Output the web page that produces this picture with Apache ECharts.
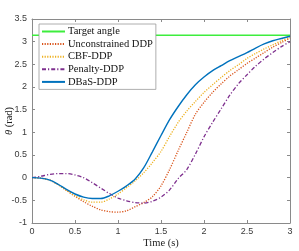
<!DOCTYPE html>
<html><head><meta charset="utf-8">
<script src="https://cdn.jsdelivr.net/npm/echarts@6/dist/echarts.min.js"></script>
<style>html,body{margin:0;padding:0;background:#fff}#c{width:299px;height:251px}</style>
</head><body><div id="c"></div>
<script>
const time = [0,0.1,0.2,0.3,0.4,0.5,0.6,0.7,0.8,0.9,1.0,1.1,1.2,1.3,1.4,1.5,1.6,1.7,1.8,1.9,2.0,2.1,2.2,2.3,2.4,2.5,2.6,2.7,2.8,2.9,3.0];
const targetTime = [0, 3];
const targetAngle = [3.1416, 3.1416];
const unconstrained = [0,-0.01,-0.05,-0.15,-0.28,-0.41,-0.53,-0.63,-0.71,-0.75,-0.76,-0.73,-0.64,-0.55,-0.42,-0.18,0.18,0.60,1.00,1.40,1.66,1.88,2.07,2.24,2.38,2.52,2.64,2.76,2.88,2.98,3.08];
const cbf = [0,-0.01,-0.05,-0.15,-0.28,-0.40,-0.49,-0.54,-0.54,-0.47,-0.36,-0.22,-0.07,0.11,0.33,0.58,0.91,1.22,1.47,1.68,1.88,2.05,2.21,2.36,2.49,2.63,2.74,2.84,2.93,3.02,3.10];
const penalty = [0,0.03,0.07,0.09,0.09,0.06,0.0,-0.11,-0.23,-0.35,-0.45,-0.51,-0.55,-0.56,-0.52,-0.43,-0.27,-0.02,0.18,0.52,0.90,1.22,1.52,1.82,2.07,2.27,2.46,2.62,2.76,2.89,3.00];
const dbas = [0,-0.01,-0.05,-0.14,-0.26,-0.36,-0.43,-0.46,-0.46,-0.40,-0.30,-0.18,-0.03,0.22,0.57,0.93,1.28,1.57,1.83,2.05,2.22,2.36,2.47,2.58,2.67,2.76,2.86,2.95,3.02,3.07,3.12];
const xTicks = {min:0, max:3, interval:0.5};
const yTicks = {min:-1, max:3.5, interval:0.5};

const pair = (xs, ys) => xs.map((x,i)=>[x, ys[i]]);
const chart = echarts.init(document.getElementById('c'), null, {renderer:'canvas'});
const axisCol = '#8a8a8a';
const SERIF = 'Liberation Serif';
const lblStyle = {color:'#3a3a3a', fontSize:9, fontFamily:'Liberation Sans', hideOverlap:false, interval:0, showMinLabel:true, showMaxLabel:true};
const baseX = {type:'value', min:xTicks.min, max:xTicks.max, interval:xTicks.interval,
  axisLine:{show:true, onZero:false, lineStyle:{color:axisCol, width:1}},
  axisTick:{show:true, inside:true, length:3, lineStyle:{color:axisCol}},
  splitLine:{show:false}};
const baseY = {type:'value', min:yTicks.min, max:yTicks.max, interval:yTicks.interval,
  axisLine:{show:true, onZero:false, lineStyle:{color:axisCol, width:1}},
  axisTick:{show:true, inside:true, length:3, lineStyle:{color:axisCol}},
  splitLine:{show:false}};
chart.setOption({
  animation:false,
  backgroundColor:'#fff',
  grid:{left:32, right:9, top:19, bottom:28, containLabel:false, outerBoundsMode:'none'},
  xAxis:[
    Object.assign({}, baseX, {position:'bottom', axisLabel:Object.assign({margin:4, formatter:v=>String(v)}, lblStyle),
      name:'Time (s)', nameLocation:'middle', nameGap:15, nameMoveOverlap:false,
      nameTextStyle:{fontFamily:SERIF, fontSize:10.5, color:'#222'}}),
    Object.assign({}, baseX, {position:'top', axisLabel:{show:false}})
  ],
  yAxis:[
    Object.assign({}, baseY, {position:'left', axisLabel:Object.assign({margin:5, formatter:v=>String(v)}, lblStyle),
      name:'{i|θ} (rad)', nameLocation:'middle', nameGap:17, nameRotate:90, nameMoveOverlap:false,
      nameTextStyle:{fontFamily:SERIF, fontSize:10.5, color:'#222', verticalAlign:'bottom',
        rich:{i:{fontStyle:'italic', fontFamily:SERIF, fontSize:10.5, color:'#222'}}}}),
    Object.assign({}, baseY, {position:'right', axisLabel:{show:false}})
  ],
  legend:{
    orient:'vertical', left:39, top:24, padding:[2,3,2,2], itemGap:1.6,
    itemWidth:23, itemHeight:10, backgroundColor:'#fff', borderColor:'#9a9a9a', borderWidth:0.8,
    itemStyle:{opacity:0},
    textStyle:{fontFamily:SERIF, fontSize:10.5, color:'#111', padding:[0,0,0,-2]},
    data:['Target angle','Unconstrained DDP','CBF-DDP','Penalty-DDP','DBaS-DDP']
  },
  series:[
    {name:'Target angle', type:'line', showSymbol:false, symbol:'none', data:pair(targetTime,targetAngle),
      lineStyle:{color:'#3ded3d', width:1.6}, itemStyle:{color:'#3ded3d'}, z:2},
    {name:'Unconstrained DDP', type:'line', showSymbol:false, symbol:'none', smooth:0.3, data:pair(time,unconstrained),
      lineStyle:{color:'#D95319', width:1.3, type:[1.2,1.4]}, itemStyle:{color:'#D95319'}, z:3},
    {name:'CBF-DDP', type:'line', showSymbol:false, symbol:'none', smooth:0.3, data:pair(time,cbf),
      lineStyle:{color:'#EDB120', width:1.3, type:[1.2,1.4]}, itemStyle:{color:'#EDB120'}, z:3},
    {name:'Penalty-DDP', type:'line', showSymbol:false, symbol:'none', smooth:0.3, data:pair(time,penalty),
      lineStyle:{color:'#7E2F8E', width:1.3, type:[4,2,1.2,2]}, itemStyle:{color:'#7E2F8E'}, z:3},
    {name:'DBaS-DDP', type:'line', showSymbol:false, symbol:'none', smooth:0.3, data:pair(time,dbas),
      lineStyle:{color:'#0072BD', width:1.4}, itemStyle:{color:'#0072BD'}, z:4}
  ]
});
</script></body></html>
